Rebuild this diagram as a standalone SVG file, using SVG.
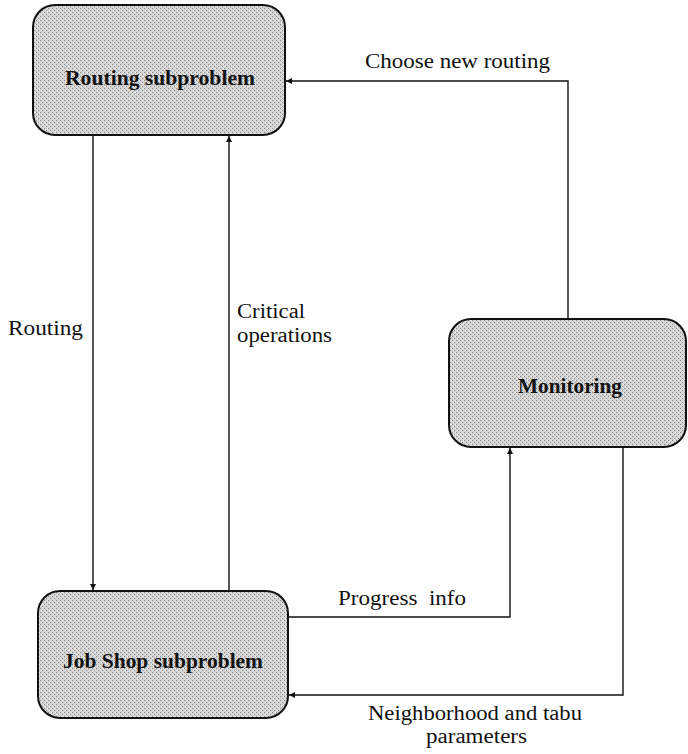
<svg xmlns="http://www.w3.org/2000/svg" width="688" height="754" viewBox="0 0 688 754">
  <style>
    .box { fill: url(#halftone); stroke: #111; stroke-width: 2; }
    .title { font-family: "Liberation Serif", "Times New Roman", serif; font-weight: bold; font-size: 21px; fill: #111; }
    .label { font-family: "Liberation Serif", "Times New Roman", serif; font-size: 20px; fill: #111; }
    .edge { fill: none; stroke: #111; stroke-width: 1.4; }
  </style>
  <defs>
    <!-- light halftone shading for the boxes -->
    <pattern id="halftone" width="4" height="4" patternUnits="userSpaceOnUse">
      <rect width="4" height="4" fill="#d2d2d2"/>
      <rect x="0" y="0" width="1" height="1" fill="#8a8a8a"/>
      <rect x="2" y="2" width="1" height="1" fill="#8a8a8a"/>
      <rect x="3" y="0" width="1" height="1" fill="#f2f2f2"/>
      <rect x="1" y="2" width="1" height="1" fill="#f2f2f2"/>
    </pattern>
    <marker id="arrow" viewBox="0 0 10 10" refX="10" refY="5" markerWidth="6" markerHeight="6" orient="auto" markerUnits="userSpaceOnUse">
      <path d="M0,0 L10,5 L0,10 z" fill="#111"/>
    </marker>
  </defs>
  <rect width="688" height="754" fill="#fff"/>

  <g id="connectors">
    <path class="edge" d="M93,136 V590" marker-end="url(#arrow)"/>
    <path class="edge" d="M229,590 V136" marker-end="url(#arrow)"/>
    <path class="edge" d="M568,318 V81 H286" marker-end="url(#arrow)"/>
    <path class="edge" d="M289,617 H510 V448" marker-end="url(#arrow)"/>
    <path class="edge" d="M623,448 V695 H289" marker-end="url(#arrow)"/>
  </g>

  <g id="routing-subproblem">
    <rect class="box" x="33" y="5" width="252" height="130" rx="22"/>
    <text class="title" x="65" y="85" textLength="190" lengthAdjust="spacingAndGlyphs">Routing subproblem</text>
  </g>

  <g id="job-shop-subproblem">
    <rect class="box" x="38" y="591" width="250" height="127" rx="22"/>
    <text class="title" x="63" y="668" textLength="200" lengthAdjust="spacingAndGlyphs">Job Shop subproblem</text>
  </g>

  <g id="monitoring">
    <rect class="box" x="449" y="319" width="237" height="128" rx="22"/>
    <text class="title" x="518" y="393" textLength="104" lengthAdjust="spacingAndGlyphs">Monitoring</text>
  </g>

  <g id="labels">
    <text class="label" x="365" y="68" textLength="185" lengthAdjust="spacingAndGlyphs">Choose new routing</text>
    <text class="label" x="8" y="335" textLength="75" lengthAdjust="spacingAndGlyphs">Routing</text>
    <text class="label" x="237" y="318" textLength="68" lengthAdjust="spacingAndGlyphs">Critical</text>
    <text class="label" x="237" y="342" textLength="95" lengthAdjust="spacingAndGlyphs">operations</text>
    <text class="label" x="338" y="605" textLength="128" lengthAdjust="spacingAndGlyphs" xml:space="preserve">Progress  info</text>
    <text class="label" x="368" y="720" textLength="214" lengthAdjust="spacingAndGlyphs">Neighborhood and tabu</text>
    <text class="label" x="426" y="743" textLength="101" lengthAdjust="spacingAndGlyphs">parameters</text>
  </g>
</svg>
